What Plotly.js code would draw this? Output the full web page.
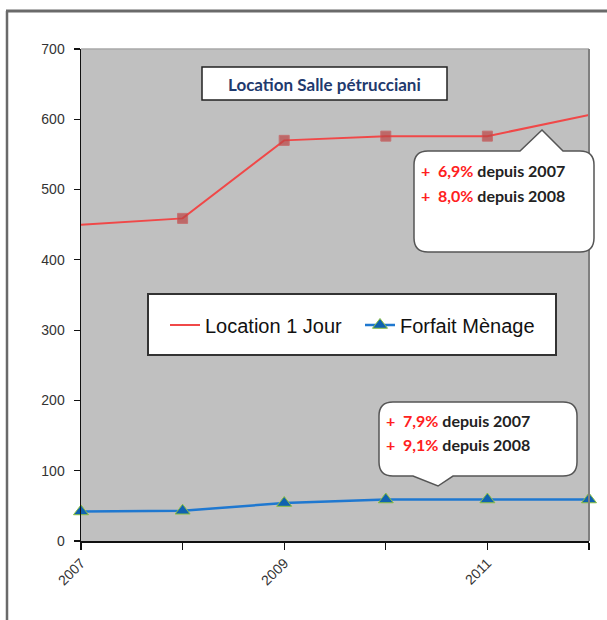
<!DOCTYPE html>
<html>
<head>
<meta charset="utf-8">
<script src="https://cdn.plot.ly/plotly-3.0.1.min.js"></script>
<style>html,body{margin:0;padding:0;background:#fff;}#chart{width:607px;height:620px;}</style>
</head>
<body>
<div id="chart"></div>
<script>
// ---- data ----
var years = [2007, 2008, 2009, 2010, 2011, 2012];
var tickLabels = ['2007', '', '2009', '', '2011', ''];
var locationJour = [450, 459, 570, 576, 576, 606];
var forfaitMenage = [42, 43, 54, 59, 59, 59];
var seriesNames = ['Location 1 Jour', 'Forfait Mènage'];
var chartTitle = 'Location Salle pétrucciani';
var callout1 = ['6,9%', 'depuis 2007', '8,0%', 'depuis 2008'];
var callout2 = ['7,9%', 'depuis 2007', '9,1%', 'depuis 2008'];

// ---- layout geometry (pixels) ----
var W = 607, H = 620, ML = 81, MR = 18, MT = 49, MB = 79;
var PW = W - ML - MR, PH = H - MT - MB;
function px(x) { return (x - ML) / PW; }
function py(y) { return (H - MB - y) / PH; }
function pt(x, y) { return px(x).toFixed(5) + ',' + py(y).toFixed(5); }

function calloutPath(x0, y0, x1, y1, r, b0, b1, tx, ty, top) {
  var p = 'M' + pt(x0 + r, y0);
  if (top) { p += ' L' + pt(b0, y0) + ' L' + pt(tx, ty) + ' L' + pt(b1, y0); }
  p += ' L' + pt(x1 - r, y0) + ' Q' + pt(x1, y0) + ' ' + pt(x1, y0 + r);
  p += ' L' + pt(x1, y1 - r) + ' Q' + pt(x1, y1) + ' ' + pt(x1 - r, y1);
  if (!top) { p += ' L' + pt(b1, y1) + ' L' + pt(tx, ty) + ' L' + pt(b0, y1); }
  p += ' L' + pt(x0 + r, y1) + ' Q' + pt(x0, y1) + ' ' + pt(x0, y1 - r);
  p += ' L' + pt(x0, y0 + r) + ' Q' + pt(x0, y0) + ' ' + pt(x0 + r, y0) + ' Z';
  return p;
}

var traces = [
  {
    x: years, y: locationJour, name: seriesNames[0], type: 'scatter', mode: 'lines',
    line: {color: '#f04848', width: 2}, cliponaxis: true
  },
  {
    x: years, y: locationJour, name: seriesNames[0], type: 'scatter', mode: 'markers', showlegend: false,
    marker: {symbol: 'square', size: [0, 10, 10, 10, 10, 0], color: '#bc4444', line: {color: '#c85050', width: 1}},
    cliponaxis: true
  },
  {
    x: years, y: forfaitMenage, name: seriesNames[1], type: 'scatter', mode: 'lines+markers',
    line: {color: '#1f78d0', width: 2.5},
    marker: {symbol: 'triangle-up', size: 13, color: '#0f62b0', line: {color: '#8cc040', width: 1}},
    cliponaxis: false
  }
];

var cf = 'Lato, "Open Sans", sans-serif';
function red(s) { return '<span style="color:#ff2020">+  ' + s + '</span>'; }

var layout = {
  width: W, height: H,
  margin: {l: ML, r: MR, t: MT, b: MB, pad: 0},
  paper_bgcolor: '#ffffff',
  plot_bgcolor: '#c0c0c0',
  showlegend: true,
  font: {family: '"Liberation Sans", Arial, sans-serif', size: 14, color: '#333'},
  xaxis: {
    range: [2007, 2012], tickvals: years, ticktext: tickLabels, tickangle: -45,
    showgrid: false, zeroline: false, showline: true, linecolor: '#111', linewidth: 1.5,
    ticks: 'outside', ticklen: 7, tickcolor: '#111', tickwidth: 1.2,
    tickfont: {size: 14, color: '#333'}
  },
  yaxis: {
    range: [0, 700], dtick: 100, showgrid: false, zeroline: false, showline: true,
    linecolor: '#111', linewidth: 1.5, ticks: 'outside', ticklen: 6, tickcolor: '#111', tickwidth: 1.2,
    ticklabelstandoff: 6,
    tickfont: {size: 14, color: '#333'}
  },
  legend: {
    orientation: 'h', x: px(165), y: py(325), xanchor: 'left', yanchor: 'middle',
    bgcolor: 'rgba(0,0,0,0)', borderwidth: 0, entrywidth: 150,
    font: {family: '"Liberation Sans", Arial, sans-serif', size: 20, color: '#111'}
  },
  shapes: [
    {type: 'line', xref: 'paper', yref: 'paper', x0: px(6), x1: px(607), y0: py(11), y1: py(11), line: {color: '#6a6a6a', width: 3}},
    {type: 'line', xref: 'paper', yref: 'paper', x0: px(7), x1: px(7), y0: py(11), y1: py(620), line: {color: '#6a6a6a', width: 2.5}},
    {type: 'line', xref: 'paper', yref: 'paper', x0: 0, x1: 1, y0: 1, y1: 1, line: {color: '#a8a8a8', width: 1.5}},
    {type: 'line', xref: 'paper', yref: 'paper', x0: 1, x1: 1, y0: 0, y1: 1, line: {color: '#808080', width: 2}},
    {type: 'rect', xref: 'paper', yref: 'paper', x0: px(202), x1: px(447), y0: py(100), y1: py(67),
     fillcolor: '#ffffff', line: {color: '#222', width: 1.5}, layer: 'above'},
    {type: 'rect', xref: 'paper', yref: 'paper', x0: px(148), x1: px(556), y0: py(355), y1: py(294),
     fillcolor: '#ffffff', line: {color: '#333', width: 2}, layer: 'above'},
    {type: 'path', xref: 'paper', yref: 'paper', path: calloutPath(414, 151, 594, 252, 14, 520, 563, 542, 130, true),
     fillcolor: '#ffffff', line: {color: '#555', width: 1.5}, layer: 'above'},
    {type: 'path', xref: 'paper', yref: 'paper', path: calloutPath(379, 402, 577, 476, 14, 413, 453, 438, 486, false),
     fillcolor: '#ffffff', line: {color: '#555', width: 1.5}, layer: 'above'}
  ],
  annotations: [
    {xref: 'paper', yref: 'paper', x: px(324.5), y: py(84), xanchor: 'center', yanchor: 'middle', showarrow: false,
     text: '<b>' + chartTitle + '</b>', font: {family: cf, size: 17, color: '#1f3a6e'}},
    {xref: 'paper', yref: 'paper', x: px(419), y: py(170), xanchor: 'left', yanchor: 'middle', showarrow: false,
     text: '<b>' + red(callout1[0]) + ' ' + callout1[1] + '</b>', font: {family: cf, size: 16, color: '#222'}},
    {xref: 'paper', yref: 'paper', x: px(419), y: py(195), xanchor: 'left', yanchor: 'middle', showarrow: false,
     text: '<b>' + red(callout1[2]) + ' ' + callout1[3] + '</b>', font: {family: cf, size: 16, color: '#222'}},
    {xref: 'paper', yref: 'paper', x: px(384), y: py(420), xanchor: 'left', yanchor: 'middle', showarrow: false,
     text: '<b>' + red(callout2[0]) + ' ' + callout2[1] + '</b>', font: {family: cf, size: 16, color: '#222'}},
    {xref: 'paper', yref: 'paper', x: px(384), y: py(444), xanchor: 'left', yanchor: 'middle', showarrow: false,
     text: '<b>' + red(callout2[2]) + ' ' + callout2[3] + '</b>', font: {family: cf, size: 16, color: '#222'}}
  ]
};

Plotly.newPlot('chart', traces, layout, {displayModeBar: false, staticPlot: true});
</script>
</body>
</html>
